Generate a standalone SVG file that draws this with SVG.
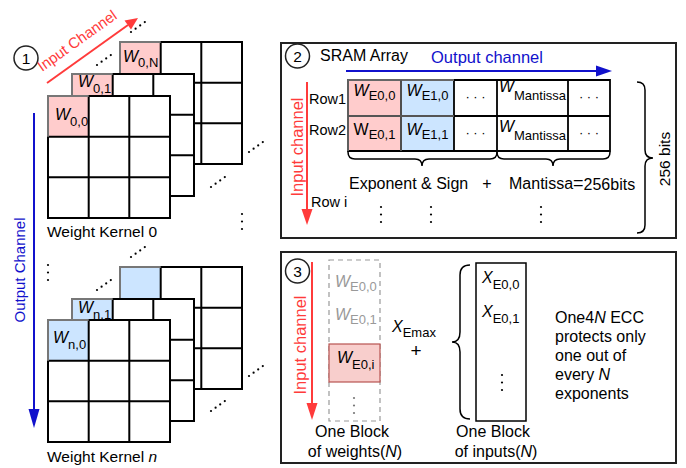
<svg xmlns="http://www.w3.org/2000/svg" xmlns:xlink="http://www.w3.org/1999/xlink" width="686" height="468" viewBox="0 0 686 468">
<style>
text{font-family:"Liberation Sans",Arial,sans-serif;fill:#000}
.t16{font-size:16px}
.t15{font-size:15.5px}
.t14{font-size:14.5px}
.w{font-size:16px}
.i{font-style:italic}
.sub{font-size:13px}
.red{fill:#ff3b3b}
.blue{fill:#1111cc}
.gray{fill:#999}
.ln{stroke:#000;stroke-width:2;fill:none}
.cell{stroke:#000;stroke-width:1.8;fill:none}
.dot{fill:#000}
.brace{stroke:#000;stroke-width:1.5;fill:none}
</style>
<defs>
<g id="gridlines">
<path d="M40.7 0V122M81.3 0V122M0 40.7H122M0 81.3H122" class="ln"/>
<rect width="122" height="122" class="ln"/>
</g>
<g id="dd4"><circle cx="0" cy="0" r="1.1"/><circle cx="4.6" cy="-3.3" r="1.1"/><circle cx="9.2" cy="-6.6" r="1.1"/><circle cx="13.8" cy="-9.9" r="1.1"/></g>
<g id="vd3"><circle cx="0" cy="0" r="1.1"/><circle cx="0" cy="7.5" r="1.1"/><circle cx="0" cy="15" r="1.1"/></g>
</defs>

<!-- Panel 1 -->
<g id="panel1">
<g id="circle1"><circle cx="26" cy="58" r="12" fill="none" stroke="#222" stroke-width="1.5"/><text x="26" y="63.5" class="t15" text-anchor="middle">1</text></g>
<g id="kernel0">
<g id="k0-back"><rect x="120" y="42" width="122" height="122" fill="#fff"/><rect x="120" y="42" width="40.7" height="40.7" fill="#ffcccc"/><use xlink:href="#gridlines" x="120" y="42"/><path d="M120 82.7V42H160.7" stroke="#777" stroke-width="2" fill="none"/></g>
<g id="k0-mid"><rect x="72" y="74" width="122" height="122" fill="#fff"/><rect x="72" y="74" width="40.7" height="40.7" fill="#ffcccc"/><use xlink:href="#gridlines" x="72" y="74"/><path d="M72 114.7V74H112.7" stroke="#777" stroke-width="2" fill="none"/></g>
<g id="k0-front"><rect x="48" y="96" width="122" height="122" fill="#fff"/><rect x="48" y="96" width="40.7" height="40.7" fill="#ffcccc"/><use xlink:href="#gridlines" x="48" y="96"/><path d="M48 136.7V96H88.7" stroke="#777" stroke-width="2" fill="none"/></g>
<text x="123" y="62"><tspan class="w i">W</tspan><tspan class="sub" dy="5">0,N</tspan></text>
<text x="78" y="87"><tspan class="w i">W</tspan><tspan class="sub" dy="6">0,1</tspan></text>
<text x="55" y="120"><tspan class="w i">W</tspan><tspan class="sub" dy="6">0,0</tspan></text>
<text x="47" y="236.5" class="t15">Weight Kernel 0</text>
</g>
<g id="kernel-n">
<g id="kn-back"><rect x="120" y="267" width="122" height="122" fill="#fff"/><rect x="120" y="267" width="40.7" height="40.7" fill="#cce5ff"/><use xlink:href="#gridlines" x="120" y="267"/><path d="M120 307.7V267H160.7" stroke="#777" stroke-width="2" fill="none"/></g>
<g id="kn-mid"><rect x="72" y="299" width="122" height="122" fill="#fff"/><rect x="72" y="299" width="40.7" height="40.7" fill="#cce5ff"/><use xlink:href="#gridlines" x="72" y="299"/><path d="M72 339.7V299H112.7" stroke="#777" stroke-width="2" fill="none"/></g>
<g id="kn-front"><rect x="48" y="320" width="122" height="122" fill="#fff"/><rect x="48" y="320" width="40.7" height="40.7" fill="#cce5ff"/><use xlink:href="#gridlines" x="48" y="320"/><path d="M48 360.7V320H88.7" stroke="#777" stroke-width="2" fill="none"/></g>
<text x="78" y="313"><tspan class="w i">W</tspan><tspan class="sub" dy="6">n,1</tspan></text>
<text x="53" y="343"><tspan class="w i">W</tspan><tspan class="sub" dy="6">n,0</tspan></text>
<text x="47" y="462" class="t15">Weight Kernel <tspan class="i">n</tspan></text>
</g>
<g id="dots1" class="dot">
<use xlink:href="#dd4" x="97" y="65"/>
<use xlink:href="#dd4" x="131" y="32"/>
<use xlink:href="#dd4" x="249" y="152"/>
<use xlink:href="#dd4" x="211" y="187"/>
<use xlink:href="#vd3" x="242" y="214"/>
<use xlink:href="#dd4" x="97" y="290"/>
<use xlink:href="#dd4" x="131" y="257"/>
<use xlink:href="#dd4" x="249" y="376"/>
<use xlink:href="#dd4" x="211" y="411"/>
<use xlink:href="#vd3" x="48" y="265"/>
</g>
</g>

<!-- connectors / axis arrows -->
<g id="connectors">
<g id="arrow-input1"><line x1="47" y1="83" x2="128" y2="25" stroke="#ff3b3b" stroke-width="2"/><polygon points="138,18 124.5,20.5 131,29.5" fill="#ff3b3b"/></g>
<g id="arrow-output1"><line x1="34" y1="113" x2="34" y2="412" stroke="#1111cc" stroke-width="2"/><polygon points="28.5,409 39.5,409 34,428" fill="#1111cc"/></g>
<g id="arrow-output2"><line x1="346" y1="71" x2="598" y2="71" stroke="#1111cc" stroke-width="2"/><polygon points="596,65.5 596,76.5 612,71" fill="#1111cc"/></g>
<g id="arrow-input2"><line x1="307" y1="82" x2="307" y2="212" stroke="#ff3b3b" stroke-width="2"/><polygon points="301.5,209 312.5,209 307,225" fill="#ff3b3b"/></g>
<g id="arrow-input3"><line x1="312" y1="262" x2="312" y2="406" stroke="#ff3b3b" stroke-width="2"/><polygon points="306.5,403 317.5,403 312,420" fill="#ff3b3b"/></g>
</g>
<text transform="translate(42,72) rotate(-35.5)" class="red" style="font-size:15px">Input Channel</text>
<text transform="translate(25,270) rotate(-90)" class="blue" style="font-size:15px" text-anchor="middle">Output Channel</text>

<!-- Panel 2 -->
<g id="panel2">
<rect x="281" y="43" width="395" height="195" fill="none" stroke="#222" stroke-width="2"/>
<g id="circle2"><circle cx="297.5" cy="56" r="12" fill="none" stroke="#222" stroke-width="1.5"/><text x="297.5" y="61.5" class="t15" text-anchor="middle">2</text></g>
<text x="320" y="60.5" style="font-size:16px">SRAM Array</text>
<text x="487" y="63" class="blue" style="font-size:16.5px" text-anchor="middle">Output channel</text>
<text transform="translate(303,147) rotate(-90)" class="red" style="font-size:16.5px" text-anchor="middle">Input channel</text>
<text x="309" y="104" class="t14">Row1</text>
<text x="309" y="135" class="t14">Row2</text>
<text x="311" y="207" class="t14">Row i</text>
<g id="sram-table">
<rect x="348" y="80" width="53" height="71" fill="#ffcccc"/>
<rect x="401" y="80" width="53" height="71" fill="#cce5ff"/>
<path d="M348 80H610V151H348ZM348 116H610M401 80V151M454 80V151M497 80V151M568 80V151" class="cell"/>
<path d="M348 151V80H454" stroke="#666" stroke-width="1.8" fill="none"/>
<path d="M348 116H454M401 80V151" stroke="#555" stroke-width="1.8" fill="none"/>
<text x="374.5" y="96" text-anchor="middle"><tspan class="w i">W</tspan><tspan class="sub" dy="4">E0,0</tspan></text>
<text x="427.5" y="96" text-anchor="middle"><tspan class="w i">W</tspan><tspan class="sub" dy="4">E1,0</tspan></text>
<text x="475.5" y="101" class="sub" text-anchor="middle">· · ·</text>
<text x="532.5" y="92" text-anchor="middle"><tspan class="w i">W</tspan><tspan class="sub" dy="8">Mantissa</tspan></text>
<text x="589" y="101" class="sub" text-anchor="middle">· · ·</text>
<text x="374.5" y="135" text-anchor="middle"><tspan class="w">W</tspan><tspan class="sub" dy="4">E0,1</tspan></text>
<text x="427.5" y="135" text-anchor="middle"><tspan class="w i">W</tspan><tspan class="sub" dy="4">E1,1</tspan></text>
<text x="475.5" y="137" class="sub" text-anchor="middle">· · ·</text>
<text x="532.5" y="132" text-anchor="middle"><tspan class="w i">W</tspan><tspan class="sub" dy="8">Mantissa</tspan></text>
<text x="589" y="137" class="sub" text-anchor="middle">· · ·</text>
</g>
<path class="brace" d="M348 152Q348 159 355 159H415Q422 159 422 166Q422 159 429 159H490Q497 159 497 152"/>
<path class="brace" d="M497 152Q497 159 504 159H546Q553 159 553 166Q553 159 560 159H603Q610 159 610 152"/>
<path class="brace" d="M637 82Q645 82 645 90V150Q645 158 653 158Q645 158 645 166V225Q645 233 637 233"/>
<text transform="translate(670,159) rotate(-90)" class="t15" text-anchor="middle">256 bits</text>
<text x="349" y="189" class="t16">Exponent &amp; Sign</text>
<text x="487" y="189" class="t16" text-anchor="middle">+</text>
<text x="509" y="189" class="t16">Mantissa<tspan style="font-size:18px">=</tspan><tspan dy="1">256bits</tspan></text>
<g class="dot"><use xlink:href="#vd3" x="381" y="207"/><use xlink:href="#vd3" x="431" y="207"/><use xlink:href="#vd3" x="541" y="207"/></g>
</g>

<!-- Panel 3 -->
<g id="panel3">
<rect x="281" y="252" width="395" height="211" fill="none" stroke="#222" stroke-width="2"/>
<g id="circle3"><circle cx="297.5" cy="271" r="12" fill="none" stroke="#222" stroke-width="1.5"/><text x="297.5" y="276.5" class="t15" text-anchor="middle">3</text></g>
<text transform="translate(306,345) rotate(-90)" class="red" style="font-size:16.5px" text-anchor="middle">Input channel</text>
<g id="weight-block">
<rect x="329" y="260" width="51" height="161" fill="none" stroke="#999" stroke-width="1.2" stroke-dasharray="5,4"/>
<text x="335" y="287" class="gray"><tspan class="w i">W</tspan><tspan class="sub" dy="4">E0,0</tspan></text>
<text x="335" y="320" class="gray"><tspan class="w i">W</tspan><tspan class="sub" dy="4">E0,1</tspan></text>
<rect x="329" y="344" width="51" height="38" fill="#f8cecc" stroke="#b85450" stroke-width="1.2"/>
<text x="337" y="363"><tspan class="w i">W</tspan><tspan class="sub" dy="6">E0,i</tspan></text>
<use xlink:href="#vd3" x="354" y="398" fill="#777"/>
</g>
<text x="392" y="332"><tspan class="w i">X</tspan><tspan class="sub" dy="5">Emax</tspan></text>
<text x="416" y="357" style="font-size:19px" text-anchor="middle">+</text>
<path class="brace" d="M470 265Q460 265 460 275V332Q460 342 452 342Q460 342 460 352V409Q460 419 470 419"/>
<g id="input-block">
<rect x="476" y="263" width="50" height="158" fill="none" stroke="#000" stroke-width="1.5"/>
<text x="482" y="283"><tspan class="w i">X</tspan><tspan class="sub" dy="6">E0,0</tspan></text>
<text x="482" y="317"><tspan class="w i">X</tspan><tspan class="sub" dy="6">E0,1</tspan></text>
<use xlink:href="#vd3" x="502" y="375" class="dot"/>
</g>
<text x="352" y="437" class="t16" text-anchor="middle">One Block</text>
<text x="355" y="457" class="t16" text-anchor="middle">of weights(<tspan class="i">N</tspan>)</text>
<text x="493" y="437" class="t16" text-anchor="middle">One Block</text>
<text x="496" y="457" class="t16" text-anchor="middle">of inputs(<tspan class="i">N</tspan>)</text>
<text x="555" y="323" class="t16">One4<tspan class="i">N</tspan> ECC</text>
<text x="555" y="342" class="t16">protects only</text>
<text x="555" y="361" class="t16">one out of</text>
<text x="555" y="380" class="t16">every <tspan class="i">N</tspan></text>
<text x="555" y="399" class="t16">exponents</text>
</g>
</svg>
